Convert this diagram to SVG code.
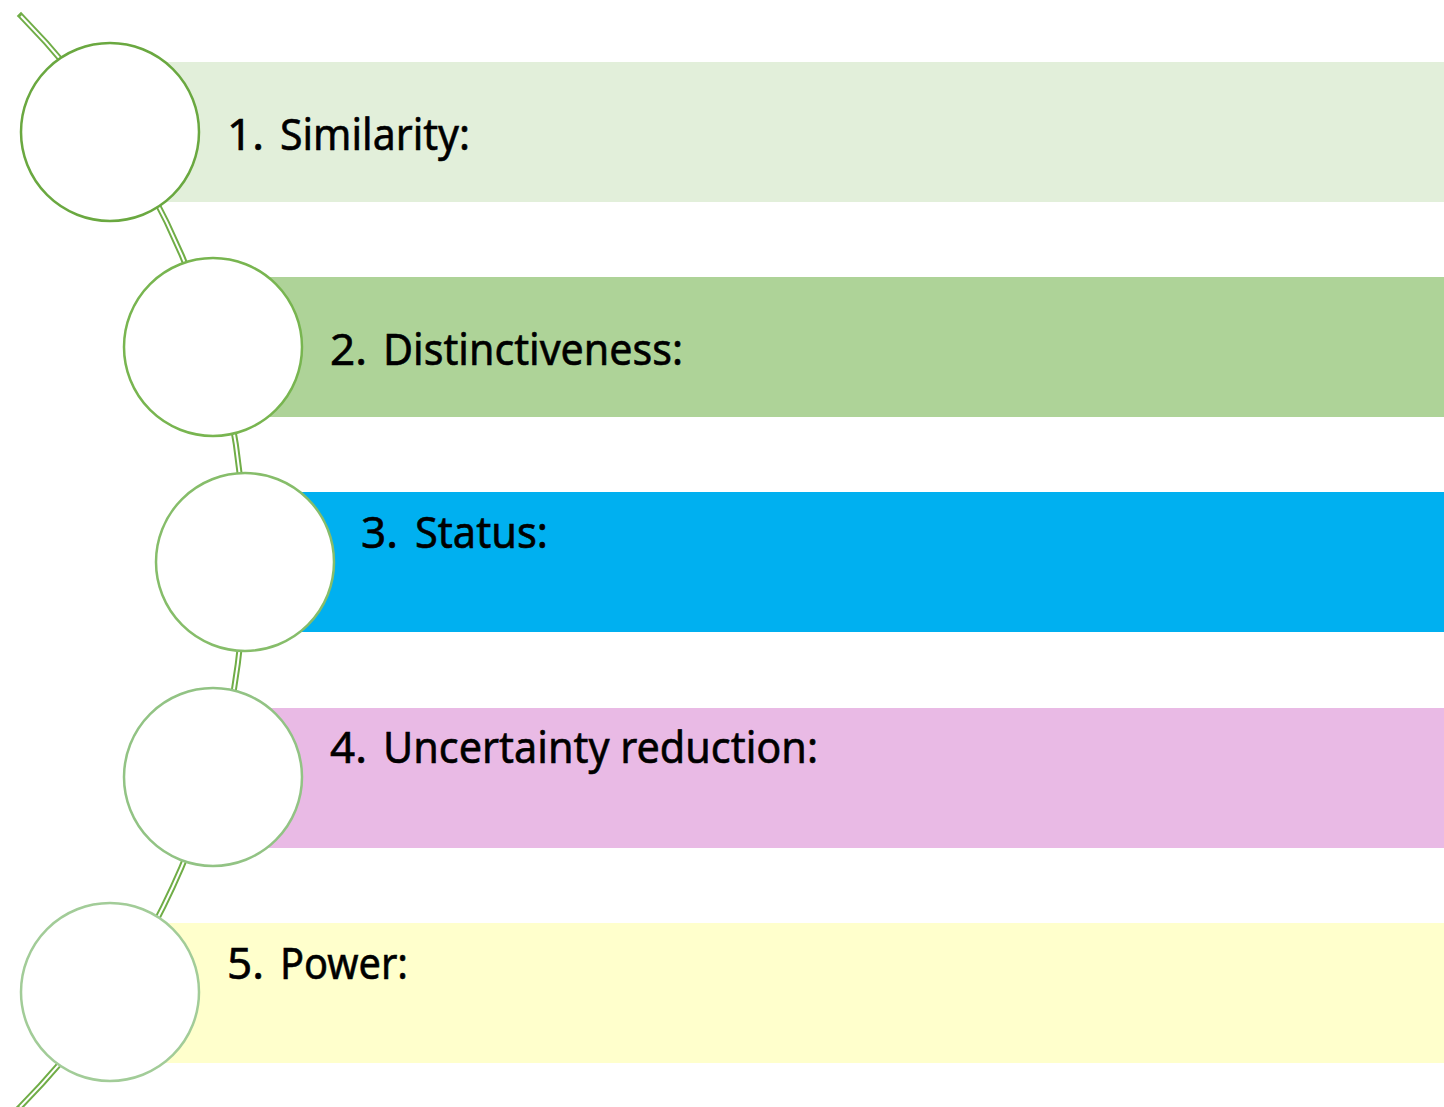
<svg xmlns="http://www.w3.org/2000/svg" width="1444" height="1107" viewBox="0 0 1444 1107">
  <style>
    .num, .lbl { font-family: "Noto Sans", "Liberation Sans", sans-serif; font-size: 44px; fill: #000; stroke: #000; stroke-width: 0.6; }
    .node circle { fill: #fff; stroke-width: 2.5; }
    .spine-outer { stroke: #70AD47; stroke-width: 6; stroke-linecap: square; }
    .spine-inner { stroke: #fff; stroke-width: 2; stroke-linecap: butt; }
  </style>
  <rect width="1444" height="1107" fill="#fff"/>

  <!-- spine: double line along a large arc behind the nodes -->
  <g id="connectors" fill="none">
    <path class="spine-outer" d="M 21 16 A 776.2 776.2 0 0 1 20 1107"/>
    <path class="spine-inner" d="M 21 16 A 776.2 776.2 0 0 1 20 1107"/>
  </g>

  <g id="node1" class="node">
    <rect x="110" y="62" width="1334" height="140" fill="#E2EFDA"/>
    <circle cx="110" cy="132" r="89" stroke="#6AA840"/>
    <text class="num" x="227" y="150">1.</text>
    <text class="lbl" x="280" y="150" textLength="190" lengthAdjust="spacingAndGlyphs">Similarity:</text>
  </g>

  <g id="node2" class="node">
    <rect x="213" y="277" width="1231" height="140" fill="#AED398"/>
    <circle cx="213" cy="347" r="89" stroke="#78B550"/>
    <text class="num" x="330" y="365">2.</text>
    <text class="lbl" x="383" y="365" textLength="300" lengthAdjust="spacingAndGlyphs">Distinctiveness:</text>
  </g>

  <g id="node3" class="node">
    <rect x="245" y="492" width="1199" height="140" fill="#00B0F0"/>
    <circle cx="245" cy="562" r="89" stroke="#86BD6A"/>
    <text class="num" x="361" y="548">3.</text>
    <text class="lbl" x="415" y="548" textLength="133" lengthAdjust="spacingAndGlyphs">Status:</text>
  </g>

  <g id="node4" class="node">
    <rect x="213" y="708" width="1231" height="140" fill="#E9BAE5"/>
    <circle cx="213" cy="777" r="89" stroke="#92C384"/>
    <text class="num" x="330" y="763">4.</text>
    <text class="lbl" x="383" y="763" textLength="435" lengthAdjust="spacingAndGlyphs">Uncertainty reduction:</text>
  </g>

  <g id="node5" class="node">
    <rect x="110" y="923" width="1334" height="140" fill="#FFFFCC"/>
    <circle cx="110" cy="992" r="89" stroke="#A2CC98"/>
    <text class="num" x="227" y="979">5.</text>
    <text class="lbl" x="280" y="979" textLength="128" lengthAdjust="spacingAndGlyphs">Power:</text>
  </g>
</svg>
